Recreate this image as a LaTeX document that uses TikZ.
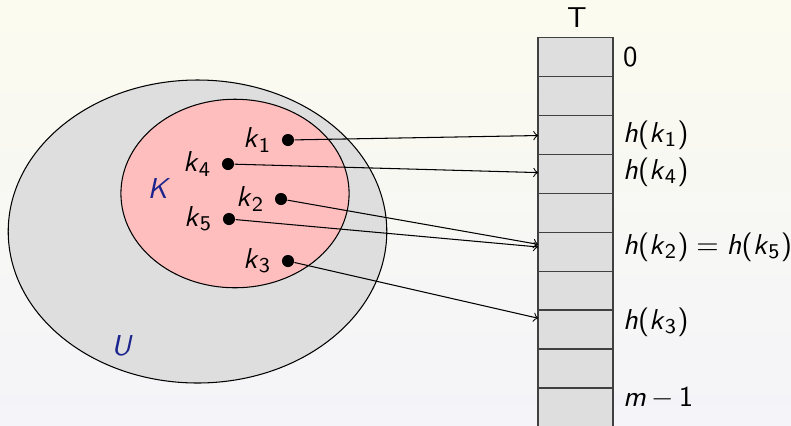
\documentclass[tikz,border=0pt,11pt]{standalone}
\usepackage{tikz}
\usetikzlibrary{shapes.geometric}

\definecolor{bgtop}{RGB}{251,251,239}
\definecolor{bgbot}{RGB}{244,244,249}
\definecolor{setblue}{RGB}{26,36,140}
\definecolor{keypink}{RGB}{255,190,190}

\newcommand{\kname}[1]{\textit{k}\textsubscript{#1}}
\newcommand{\hname}[1]{\textit{h}(\kname{#1})}

\begin{document}
\begin{tikzpicture}[x=0.01336cm,y=-0.01336cm,->,>=to,thin,font=\sffamily,
				set node/.style={ellipse,draw,inner sep=0pt},
				key node/.style={circle,fill=black,inner sep=0pt,minimum size=4.6pt,label distance=1pt},
				slot node/.style={rectangle,draw=black!75,line width=0.5pt,fill=black!13,minimum width=1.002cm,minimum height=0.52cm,inner sep=0pt,outer sep=0pt},
				index/.style={anchor=west}]

				% background
				\fill[top color=bgtop,bottom color=bgbot] (0,0) rectangle (791,425);
				\useasboundingbox (0,0) rectangle (791,425);

				% universe and key set
				\node[set node,fill=black!13,minimum width=5.06cm,minimum height=4.05cm] (U) at (197.5,231.5) {};
				\node[set node,fill=keypink,minimum width=3.05cm,minimum height=2.52cm] (K) at (235,193.5) {};
				\node[text=setblue] (Ulabel) at (122,346) {\textit{U}};
				\node[text=setblue] (Klabel) at (159,188) {\textit{K}};

				\node[key node,label=left:\kname{1}] (k1) at (288,140) {};
				\node[key node,label=left:\kname{4}] (k4) at (228,164) {};
				\node[key node,label=left:\kname{2}] (k2) at (281,199) {};
				\node[key node,label=left:\kname{5}] (k5) at (229,219) {};
				\node[key node,label=left:\kname{3}] (k3) at (288,261) {};

				% table
				\node (T) at (577,18) {T};
				\foreach \i in {0,...,9}
					\node[slot node] (c\i) at (575.5,{57.2+38.9*\i}) {};

				\node[index] (l0) at (613,57) {0};
				\node[index] (l2) at (613,135) {\hname{1}};
				\node[index] (l3) at (613,172) {\hname{4}};
				\node[index] (l5) at (613,247) {\hname{2}\kern3pt$=$\kern3pt\hname{5}};
				\node[index] (l7) at (613,322) {\hname{3}};
				\node[index] (l9) at (613,398) {\textit{m}\kern2pt$-$\kern2pt1};

				\path
				(k1) edge ([yshift=-0.2pt]c2.west)
				(k4) edge ([yshift=0.5pt]c3.west)
				(k2) edge ([yshift=2.8pt]c5.west)
				(k5) edge ([yshift=1.8pt]c5.west)
				(k3) edge ([yshift=4.3pt]c7.west);

			\end{tikzpicture}
\end{document}
